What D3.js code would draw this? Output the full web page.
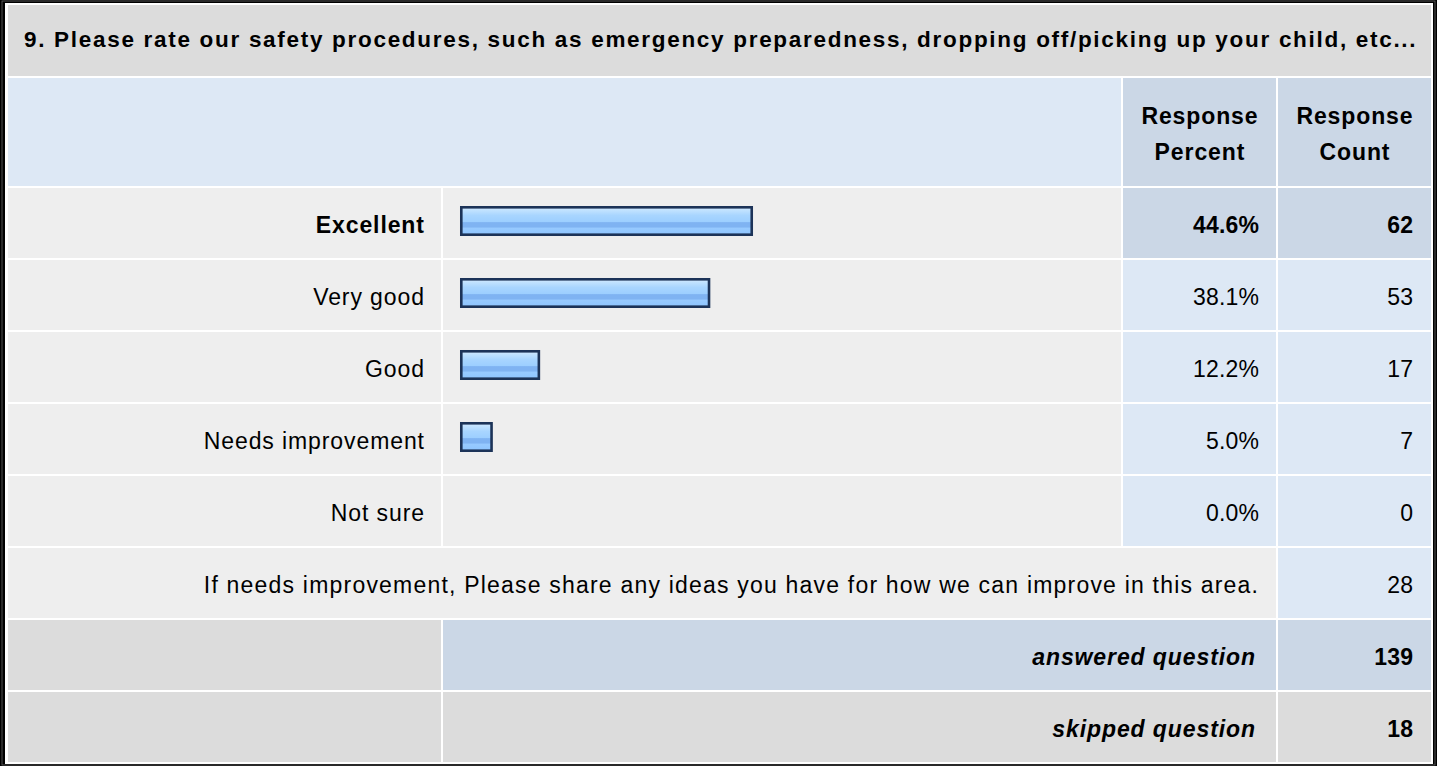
<!DOCTYPE html>
<html>
<head>
<meta charset="utf-8">
<script src="https://cdn.jsdelivr.net/npm/d3@7"></script>
<style>
  html, body { margin: 0; padding: 0; background: #fff; }
  svg { display: block; font-family: "Liberation Sans", Arial, sans-serif; }
</style>
</head>
<body>
<div class="svg-container"></div>
<script>
const questionTitle = '9. Please rate our safety procedures, such as emergency preparedness, dropping off/picking up your child, etc...'
const answerOptions = ['Excellent', 'Very good', 'Good', 'Needs improvement', 'Not sure']
const responsePercent = [44.6, 38.1, 12.2, 5.0, 0.0]
const responseCount = [62, 53, 17, 7, 0]
const commentLabel = 'If needs improvement, Please share any ideas you have for how we can improve in this area.'
const commentCount = 28
const summaryLabels = ['answered question', 'skipped question']
const summaryCounts = [139, 18]

const W = 1437, H = 766
const FS = 23    // body font size
const LS = 0.9   // letter spacing for words
const NS = 0.2   // letter spacing for numbers

const svg = d3.select('.svg-container').append('svg')
  .attr('width', W)
  .attr('height', H)

const defs = svg.append('defs')
const grad = defs.append('linearGradient')
  .attr('id', 'barGrad')
  .attr('x1', 0).attr('y1', 0).attr('x2', 0).attr('y2', 1)
;[
  [0, '#d4ebff'], [0.12, '#bfe1ff'], [0.3, '#a8d5ff'], [0.52, '#9dcfff'],
  [0.56, '#7fb3f2'], [0.72, '#7fb3f2'], [0.76, '#97caff'], [1, '#8ec5ff']
].forEach(s => grad.append('stop').attr('offset', s[0]).attr('stop-color', s[1]))

// outer frame
svg.append('rect').attr('width', W).attr('height', H).attr('fill', '#000')
svg.append('rect').attr('x', 2).attr('y', 1).attr('width', W - 4).attr('height', H - 2)
  .attr('fill', 'none').attr('stroke', '#666').attr('stroke-width', 0.8)
svg.append('rect').attr('x', 5).attr('y', 3).attr('width', 1428).attr('height', 761).attr('fill', '#fff')

// columns: label | bar | percent | count
const colX = { label: 8, bar: 443, pct: 1123, count: 1278, end: 1431 }

const rowKeys = answerOptions.concat(['comment'], summaryLabels)
const rowY = d3.scaleBand()
  .domain(rowKeys)
  .range([188, 762])
  .paddingInner(2 / 72)
  .paddingOuter(0)

const x = d3.scaleLinear().domain([0, 100]).range([0, 657])

function cell(x0, x1, y0, h, fill) {
  svg.append('rect')
    .attr('x', x0).attr('y', y0)
    .attr('width', x1 - x0).attr('height', h)
    .attr('fill', fill)
}

// right aligned text; trailing letter-spacing is pushed back
function rtext(xr, y, str, ls, opts) {
  const t = svg.append('text')
    .attr('x', xr + ls).attr('y', y)
    .attr('text-anchor', 'end')
    .attr('font-size', FS)
    .attr('letter-spacing', ls)
    .attr('font-weight', opts && opts.bold ? 'bold' : 'normal')
    .text(str)
  if (opts && opts.italic) t.attr('font-style', 'italic')
  return t
}

// title row
cell(colX.label, colX.end, 5, 71, '#dcdcdc')
svg.append('text')
  .attr('x', 24).attr('y', 47)
  .attr('font-size', 22.5).attr('font-weight', 'bold')
  .attr('letter-spacing', 1.7)
  .attr('fill', '#000')
  .text(questionTitle)

// header row
cell(colX.label, colX.pct - 2, 78, 108, '#dde8f5')
cell(colX.pct, colX.count - 2, 78, 108, '#cbd7e6')
cell(colX.count, colX.end, 78, 108, '#cbd7e6')
;[['Response', 'Percent', colX.pct, colX.count - 2], ['Response', 'Count', colX.count, colX.end]]
  .forEach(h => {
    const cx = (h[2] + h[3]) / 2 + LS / 2
    const t = svg.append('text')
      .attr('text-anchor', 'middle')
      .attr('font-size', FS).attr('font-weight', 'bold')
      .attr('letter-spacing', LS)
    t.append('tspan').attr('x', cx).attr('y', 124).text(h[0])
    t.append('tspan').attr('x', cx).attr('y', 160).text(h[1])
  })

const bw = rowY.bandwidth()
const topIdx = responsePercent.indexOf(d3.max(responsePercent))

// answer rows
answerOptions.forEach((opt, i) => {
  const y0 = rowY(opt)
  const bold = i === topIdx
  cell(colX.label, colX.bar - 2, y0, bw, '#eeeeee')
  cell(colX.bar, colX.pct - 2, y0, bw, '#eeeeee')
  cell(colX.pct, colX.count - 2, y0, bw, bold ? '#cbd7e6' : '#dde8f5')
  cell(colX.count, colX.end, y0, bw, bold ? '#cbd7e6' : '#dde8f5')

  rtext(424, y0 + 45, opt, LS, { bold })
  rtext(1259, y0 + 45, responsePercent[i].toFixed(1) + '%', NS, { bold })
  rtext(1413, y0 + 45, responseCount[i], NS, { bold })
})

// bars
const sw = 2.6
svg.selectAll('.bar')
  .data(answerOptions.map((o, i) => ({ opt: o, pct: responsePercent[i] })).filter(d => d.pct > 0))
  .enter()
  .append('rect')
  .attr('class', 'bar')
  .attr('x', 460 + sw / 2)
  .attr('y', d => rowY(d.opt) + 18 + sw / 2)
  .attr('width', d => x(d.pct) - sw)
  .attr('height', 30 - sw)
  .attr('fill', 'url(#barGrad)')
  .attr('stroke', '#1c3358')
  .attr('stroke-width', sw)

// comment row
const yc = rowY('comment')
cell(colX.label, colX.count - 2, yc, bw, '#eeeeee')
cell(colX.count, colX.end, yc, bw, '#dde8f5')
rtext(1258, yc + 45, commentLabel, 1.2)
rtext(1413, yc + 45, commentCount, NS)

// summary rows
summaryLabels.forEach((lab, i) => {
  const y0 = rowY(lab)
  const mid = i === 0 ? '#cbd7e6' : '#dcdcdc'
  cell(colX.label, colX.bar - 2, y0, bw, '#dcdcdc')
  cell(colX.bar, colX.count - 2, y0, bw, mid)
  cell(colX.count, colX.end, y0, bw, mid)
  rtext(1255, y0 + 45, lab, LS, { bold: true, italic: true })
  rtext(1413, y0 + 45, summaryCounts[i], NS, { bold: true })
})
</script>
</body>
</html>
